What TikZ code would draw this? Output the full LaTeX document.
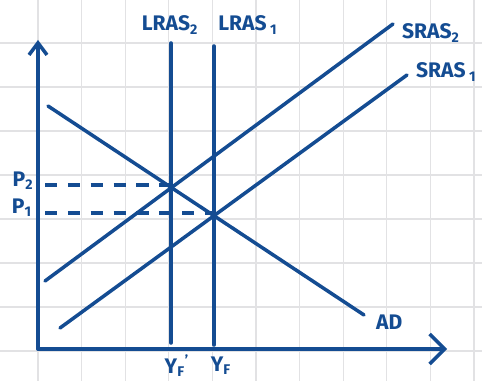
\documentclass[tikz,border=0pt]{standalone}
\usepackage{fontspec}
\setsansfont{Fira Sans}
\usetikzlibrary{arrows.meta}
\definecolor{ink}{RGB}{20,76,146}
\definecolor{paper}{RGB}{226,226,228}

\begin{document}
\begin{tikzpicture}[
  x=0.02cm, y=-0.02cm,
  gridline/.style={draw=paper, line width=0.6pt},
  axis/.style={draw=ink, line width=2pt, line cap=round},
  curve/.style={draw=ink, line width=2pt, line cap=round},
  guide/.style={draw=ink, line width=2pt, dash pattern=on 7pt off 6pt},
  lbl/.style={text=ink, inner sep=1pt, font=\sffamily\bfseries\fontsize{12}{14}\selectfont},
]
\useasboundingbox (0,0) rectangle (482,381);

% squared paper
\foreach \gx in {38,81.6,...,480}
  \draw[gridline] (\gx,0) -- (\gx,381);
\foreach \gy in {43,87,...,380}
  \draw[gridline] (0,\gy) -- (482,\gy);

% axes
\coordinate (origin) at (38,349);
\coordinate (ytop) at (38,40);
\coordinate (xend) at (447,349);
\draw[axis, -{Straight Barb[length=2.4mm, width=3.6mm, line width=2pt]}] (origin) -- (ytop);
\draw[axis, -{Straight Barb[length=3mm, width=6mm, line width=2pt]}] (origin) -- (xend);

% long run supply
\coordinate (lras2top) at (171,43);
\coordinate (lras2bot) at (171,343);
\coordinate (lras1top) at (214,46);
\coordinate (lras1bot) at (214,345);
\draw[curve] (lras2top) -- (lras2bot);
\draw[curve] (lras1top) -- (lras1bot);
\node[lbl] (lras2) at (170,25) {LRAS\textsubscript{2}};
\node[lbl] (lras1) at (248,25) {LRAS\,\textsubscript{1}};

% short run supply
\coordinate (sras2lo) at (45,281);
\coordinate (sras2hi) at (393,24);
\coordinate (sras1lo) at (60,328);
\coordinate (sras1hi) at (407,75);
\draw[curve] (sras2lo) -- (sras2hi);
\draw[curve] (sras1lo) -- (sras1hi);
\node[lbl, anchor=west] (sras2) at (400,33) {SRAS\textsubscript{2}};
\node[lbl, anchor=west] (sras1) at (414,72) {SRAS\,\textsubscript{1}};

% demand
\coordinate (adhi) at (48,106);
\coordinate (adlo) at (364,315);
\draw[curve] (adhi) -- (adlo);
\node[lbl, anchor=west] (ad) at (374,322) {AD};

% price levels
\coordinate (eq2) at (171,185);
\coordinate (eq1) at (214,213);
\coordinate (p2start) at (45,185);
\coordinate (p1start) at (45,213);
\draw[guide] (p2start) -- (eq2);
\draw[guide] (p1start) -- (eq1);
\node[lbl] (p2) at (23,181) {P\textsubscript{2}};
\node[lbl] (p1) at (22,208) {P\textsubscript{1}};

% output
\node[lbl] (yf2) at (177,366) {Y\textsubscript{F}\textsuperscript{'}};
\node[lbl] (yf1) at (221,366) {Y\textsubscript{F}};

\end{tikzpicture}
\end{document}
